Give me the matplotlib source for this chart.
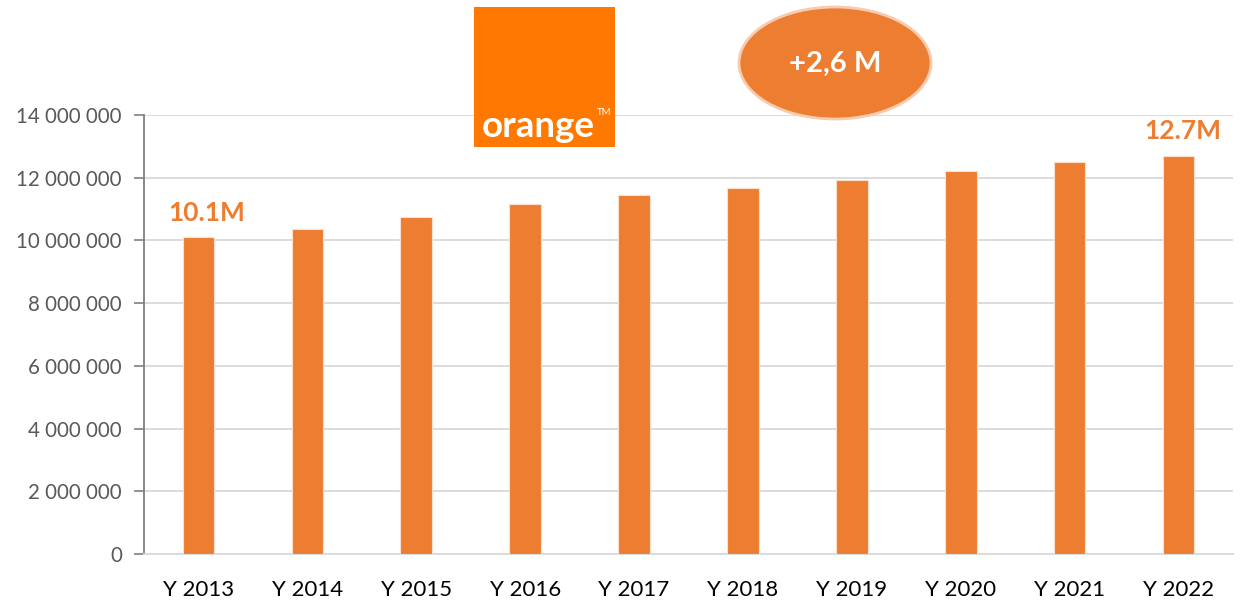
import matplotlib
matplotlib.use("Agg")
import matplotlib.pyplot as plt
from matplotlib.patches import Ellipse, Rectangle
from matplotlib.ticker import FuncFormatter

categories = ["Y 2013", "Y 2014", "Y 2015", "Y 2016", "Y 2017",
              "Y 2018", "Y 2019", "Y 2020", "Y 2021", "Y 2022"]
subscribers = [10100000, 10350000, 10740000, 11160000, 11450000,
               11670000, 11920000, 12200000, 12510000, 12680000]
yticks = [0, 2000000, 4000000, 6000000, 8000000, 10000000, 12000000, 14000000]
first_label = "10.1M"
last_label = "12.7M"
growth_label = "+2,6 M"
logo_text = "orange"

plt.rcParams['font.family'] = ['Lato', 'DejaVu Sans']
BAR = "#ED7D31"

fig = plt.figure(figsize=(12.41, 6.04), dpi=100)
ax = fig.add_axes([144/1241, 1-554/604, (1233-144)/1241, (554-115)/604])

x = list(range(len(categories)))
ax.bar(x, subscribers, width=0.29, color=BAR, edgecolor="#FBE0CF", linewidth=0.8, zorder=3)
ax.set_xlim(-0.5, len(categories)-0.5)
ax.set_ylim(0, 14000000)
ax.set_yticks(yticks)
ax.yaxis.set_major_formatter(FuncFormatter(lambda v, p: f"{int(v):,}".replace(",", " ")))
ax.set_xticks(x)
ax.set_xticklabels(categories, fontsize=16, color="black")
ax.tick_params(axis='x', length=0, pad=19)
ax.tick_params(axis='y', length=7, width=1.2, color="#808080", labelsize=14.8, labelcolor="#595959", pad=9)
ax.grid(axis='y', color="#D9D9D9", linewidth=1.3, zorder=0)
for s in ['top', 'right']:
    ax.spines[s].set_visible(False)
ax.spines['bottom'].set_color("#D9D9D9")
ax.spines['bottom'].set_linewidth(1.3)
ax.spines['left'].set_color("#808080")
ax.spines['left'].set_linewidth(1.3)

ax.annotate(first_label, (x[0], subscribers[0]), xytext=(6, 9), textcoords='offset points',
            ha='center', va='bottom', fontsize=19, fontweight='bold', color=BAR)
ax.annotate(last_label, (x[-1], subscribers[-1]), xytext=(3, 10), textcoords='offset points',
            ha='center', va='bottom', fontsize=19, fontweight='bold', color=BAR)

# Orange logo
fig.patches.append(Rectangle((474/1241, 1-147/604), 141/1241, 140/604, transform=fig.transFigure,
                             facecolor="#FF7900", edgecolor="none"))
fig.text(482/1241, 1-137/604, logo_text, fontsize=26.5, fontweight='bold', color="white",
         ha='left', va='baseline')
fig.text(597/1241, 1-115/604, "TM", fontsize=7, color="white", ha='left', va='baseline')

# Growth ellipse
fig.patches.append(Ellipse((835/1241, 1-63/604), 192/1241, 112/604, transform=fig.transFigure,
                           facecolor=BAR, edgecolor="#F8CBAD", linewidth=2))
fig.text(835/1241, 1-64/604, growth_label, fontsize=21, fontweight='bold', color="white",
         ha='center', va='center')

fig.savefig("out.png", dpi=100)
